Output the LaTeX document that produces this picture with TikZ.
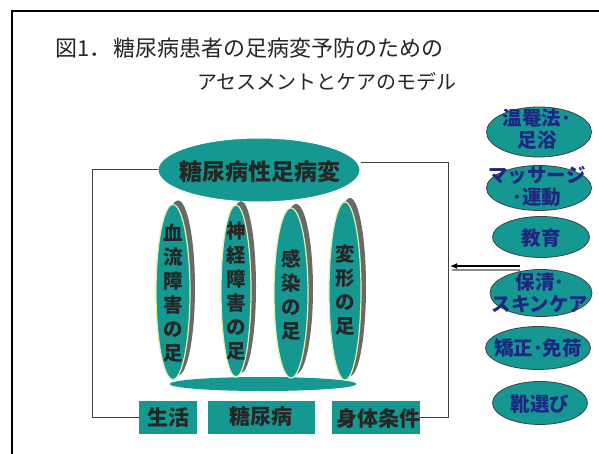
\documentclass[tikz,border=0pt]{standalone}
\usepackage{fontspec}
\newfontfamily\jp{Noto Sans CJK JP}
\usetikzlibrary{shapes.geometric,arrows.meta}
\definecolor{teal1}{RGB}{22,152,146}
\definecolor{navy1}{RGB}{30,40,130}
\definecolor{lightrim}{RGB}{225,240,170}
\definecolor{shad}{RGB}{105,105,105}
\tikzset{
  ell/.style={ellipse,fill=teal1,inner sep=0pt},
  rell/.style={ellipse,fill=teal1,draw=black!75,line width=0.8pt,inner sep=0pt},
  vell/.style={ellipse,fill=teal1,draw=lightrim,line width=1.2pt,inner sep=0pt,minimum width=34pt,minimum height=175pt},
  vshad/.style={ellipse,fill=shad,inner sep=0pt,minimum width=34pt,minimum height=175pt},
  rtext/.style={font=\jp\bfseries\fontsize{19.5}{22}\selectfont,text=navy1,align=center,inner sep=0pt},
  vtext/.style={font=\jp\bfseries\fontsize{19.5}{24}\selectfont,text=black!85,align=center,inner sep=0pt},
  bbox/.style={fill=teal1,inner sep=0pt,minimum height=33pt,font=\jp\bfseries\fontsize{21}{24}\selectfont,text=black!85},
  conn/.style={draw=black!75,line width=1pt}
}
\begin{document}
\begin{tikzpicture}[x=1pt,y=-1pt]
\useasboundingbox (0,0) rectangle (599,454);
\fill[white] (0,0) rectangle (599,454);
% outer frame
\draw[line width=2pt] (12,470) -- (12,11) -- (620,11);
% title
\node[anchor=west,inner sep=0pt,font=\jp\fontsize{22}{24}\selectfont,text=black!85] (t1) at (55,48) {図1．\kern2pt 糖尿病患者の足病変予防のための};
\node[anchor=west,inner sep=0pt,font=\jp\fontsize{20}{24}\selectfont,text=black!85] (t2) at (197,82) {アセスメントとケアのモデル};
% main ellipse
\node[ell,minimum width=202pt,minimum height=64pt,draw=white,line width=1pt] (main) at (259,170) {};
\node[inner sep=0pt,font=\jp\bfseries\fontsize{23}{26}\selectfont,text=black!85] (maint) at (260,172) {糖尿病性足病変};
% bottom flat ellipse
\node[ell,minimum width=187pt,minimum height=14pt] (base) at (263,384) {};
% vertical ellipses with shadows
\node[vshad] (s1) at (178,288) {};
\node[vell] (v1) at (173,292) {};
\node[vshad,minimum width=30pt,minimum height=172pt] (s2) at (241,287) {};
\node[vell,minimum width=30pt,minimum height=172pt] (v2) at (236,291) {};
\node[vshad,minimum width=34pt,minimum height=170pt] (s3) at (296,289) {};
\node[vell,minimum width=34pt,minimum height=170pt] (v3) at (291,293) {};
\node[vshad,minimum width=32pt,minimum height=178pt] (s4) at (350,287) {};
\node[vell,minimum width=32pt,minimum height=178pt] (v4) at (345,291) {};
\node[vtext] (vt1) at (173,293) {血\\流\\障\\害\\の\\足};
\node[vtext] (vt2) at (236,291) {神\\経\\障\\害\\の\\足};
\node[vtext] (vt3) at (291,295) {感\\染\\の\\足};
\node[vtext] (vt4) at (345,290) {変\\形\\の\\足};
% bottom boxes
\node[bbox,minimum width=58pt] (b1) at (168,417) {生活};
\node[bbox,minimum width=107pt] (b2) at (261,417) {糖尿病};
\node[bbox,minimum width=88pt,anchor=west] (b3) at (332,417) {};
\node[inner sep=0pt,font=\jp\bfseries\fontsize{21}{24}\selectfont,text=black!85] (b3t) at (378,418) {身体条件};
% frame connectors
\coordinate (lc) at (92,170);
\coordinate (rc) at (448,163);
\draw[conn] (main.west) -- (lc) |- (b1.west);
\draw[conn] (main.east) ++(0,-7) -- (rc) |- (b3.east);
% right ellipses
\node[rell,minimum width=105pt,minimum height=50pt] (r1) at (539,132) {};
\node[rtext] (rt1) at (537,129) {温罨法･\\足浴};
\node[rell,minimum width=105pt,minimum height=45pt] (r2) at (539,188) {};
\node[rtext] (rt2) at (537,186) {マッサージ\\･運動};
\node[rell,minimum width=97pt,minimum height=41pt] (r3) at (541,237) {};
\node[rtext] (rt3) at (541,238) {教育};
\node[rell,minimum width=102pt,minimum height=47pt] (r4) at (541,293) {};
\node[rtext] (rt4) at (540,293) {保清･\\スキンケア};
\node[rell,minimum width=105pt,minimum height=43pt] (r5) at (538,348) {};
\node[rtext] (rt5) at (538,348) {矯正･免荷};
\node[rell,minimum width=95pt,minimum height=43pt] (r6) at (540,403) {};
\node[rtext] (rt6) at (540,404) {靴選び};
% arrow
\coordinate (as) at (520,266);
\coordinate (ae) at (450,266);
\coordinate (gs) at (520,270);
\coordinate (ge) at (452,270);
\draw[draw=black!45,line width=1.5pt] (gs) -- (ge);
\draw[line width=1.8pt,-{Latex[length=7pt,width=6pt]}] (as) -- (ae);
\end{tikzpicture}
\end{document}
